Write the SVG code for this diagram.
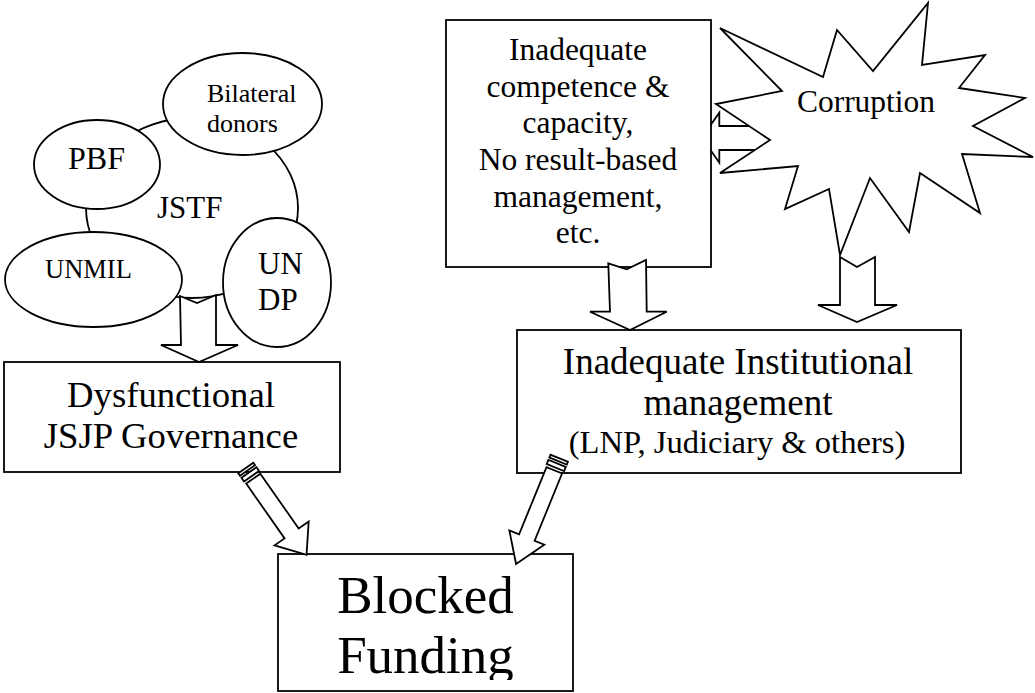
<svg xmlns="http://www.w3.org/2000/svg" width="1035" height="693" viewBox="0 0 1035 693">
  <style>
    .shape { fill: #ffffff; stroke: #000000; stroke-width: 1.8; stroke-linejoin: miter; }
    .ring { fill: none; stroke: #000000; stroke-width: 1.8; }
    .line { fill: none; stroke: #000000; stroke-width: 1.8; }
    text { font-family: "Liberation Serif", "Times New Roman", serif; fill: #000000; }
    .mid { text-anchor: middle; }
  </style>
  <defs>
    <clipPath id="fundingClip">
      <rect x="278" y="554" width="295" height="126"/>
    </clipPath>
  </defs>

  <!-- JSTF partner ring -->
  <g id="jstf">
    <ellipse class="ring" cx="192" cy="208" rx="106" ry="90"/>
    <text x="157" y="218" font-size="31">JSTF</text>
  </g>

  <g id="bilateral-donors">
    <ellipse class="shape" cx="242.5" cy="104" rx="79.5" ry="51"/>
    <text x="207" y="102" font-size="26">Bilateral</text>
    <text x="207" y="132" font-size="26">donors</text>
  </g>

  <g id="pbf">
    <ellipse class="shape" cx="97" cy="164.5" rx="63" ry="44.5"/>
    <text x="68" y="169" font-size="32">PBF</text>
  </g>

  <g id="unmil">
    <ellipse class="shape" cx="93.5" cy="279.5" rx="88.5" ry="47.5"/>
    <text x="45" y="278" font-size="26.5">UNMIL</text>
  </g>

  <g id="undp">
    <ellipse class="shape" cx="277" cy="282.5" rx="54" ry="64.5"/>
    <text x="258" y="274" font-size="31">UN</text>
    <text x="258" y="310" font-size="31">DP</text>
  </g>

  <g id="dysfunctional-governance">
    <rect class="shape" x="4" y="362" width="336" height="110"/>
    <text class="mid" x="171" y="407" font-size="36.7">Dysfunctional</text>
    <text class="mid" x="171" y="448" font-size="36.7">JSJP Governance</text>
  </g>

  <g id="competence-capacity">
    <rect class="shape" x="446" y="20" width="265" height="247"/>
    <text class="mid" x="578" y="60" font-size="31.5">Inadequate</text>
    <text class="mid" x="578" y="96.7" font-size="31.5">competence &amp;</text>
    <text class="mid" x="578" y="133" font-size="31.5">capacity,</text>
    <text class="mid" x="578" y="170" font-size="31.5">No result-based</text>
    <text class="mid" x="578" y="206.7" font-size="31.5">management,</text>
    <text class="mid" x="578" y="243.3" font-size="31.5">etc.</text>
  </g>

  <g id="corruption">
    <polygon class="shape" points="720,28 823,77 837,30 873,71 928,3 922,65 985,55 959,88 1025,98 973,126 1033,157 962,154 980,213 920,173 909,232 870,178 840,255 829,189 785,209 798,166 720,173 770,140 716,104 782,91"/>
    <text class="mid" x="866" y="112" font-size="31.5">Corruption</text>
  </g>

  <g id="institutional-management">
    <rect class="shape" x="517" y="330" width="444" height="143"/>
    <text class="mid" x="738" y="374" font-size="37">Inadequate Institutional</text>
    <text class="mid" x="738" y="415" font-size="37">management</text>
    <text class="mid" x="737" y="453" font-size="32.6">(LNP, Judiciary &amp; others)</text>
  </g>

  <g id="blocked-funding">
    <rect class="shape" x="278" y="554" width="295" height="137"/>
    <g clip-path="url(#fundingClip)">
      <text class="mid" x="425.5" y="613" font-size="53">Blocked</text>
      <text class="mid" x="425.5" y="673" font-size="53">Funding</text>
    </g>
  </g>

  <g id="connectors">
    <!-- partners down to governance -->
    <polygon class="shape" points="180,296 197,303 216,295 216,345 238,345 199,362 161,345 181,345"/>
    <!-- competence box down to institutional management -->
    <polygon class="shape" points="608.3,263.3 626.7,269.3 646,260 646.7,311.7 666.7,311.7 630,330 590,311.7 610,311.7"/>
    <!-- corruption down to institutional management -->
    <polygon class="shape" points="840,257 857,267 875,257 875,305 897,305 857,322 818,305 840,305"/>
    <!-- corruption toward competence box (head partly under the box, shaft under the star) -->
    <path class="line" d="M711,124.6 L719.3,112.7 L719.3,126 L749,126 M711,150.8 L719.3,162.7 L719.3,150 L754.8,150"/>
    <!-- governance to blocked funding (striped arrow) -->
    <g transform="translate(245.8,468) rotate(55)">
      <rect class="shape" x="0" y="-9.2" width="3" height="18.4"/>
      <rect class="shape" x="5.5" y="-9.2" width="4.5" height="18.4"/>
      <polygon class="shape" points="13,-8.6 79.9,-8.6 79.9,-20.8 105.9,0 79.9,20.8 79.9,8.6 13,8.6"/>
    </g>
    <!-- institutional management to blocked funding (striped arrow) -->
    <g transform="translate(559.2,458.3) rotate(112.2)">
      <rect class="shape" x="0" y="-9.4" width="3" height="18.8"/>
      <rect class="shape" x="5.5" y="-9.4" width="4.5" height="18.8"/>
      <polygon class="shape" points="13,-8.4 85.6,-8.4 85.6,-18.9 114.2,0 85.6,18.9 85.6,8.4 13,8.4"/>
    </g>
  </g>
</svg>
